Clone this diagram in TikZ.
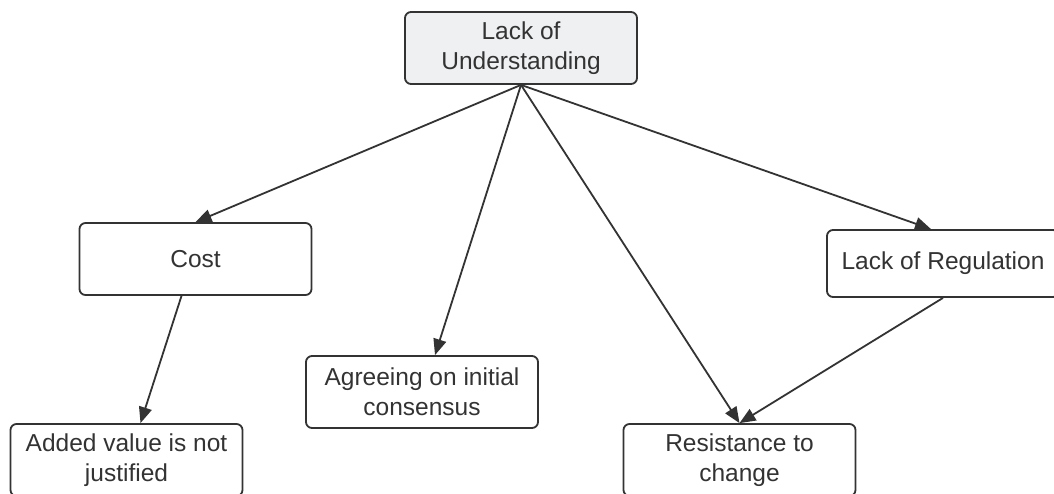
\documentclass[tikz,border=0pt]{standalone}
\usepackage{fontspec}
\setmainfont{Liberation Sans}
\usetikzlibrary{arrows.meta}
\definecolor{ink}{HTML}{333333}
\definecolor{topfill}{HTML}{EEF0F2}
\tikzset{
  box/.style={draw=ink, line width=1.8pt, rounded corners=6pt, fill=white,
    minimum width=232pt, minimum height=72pt, inner sep=0pt, align=center,
    text=ink, font=\fontsize{24.5}{30}\selectfont},
  link/.style={draw=ink, line width=1.8pt, -{Triangle[length=16pt,width=13pt]}}
}
\begin{document}
\begin{tikzpicture}[x=1pt,y=-1pt]
\fill[white] (0,0) rectangle (1054,493);
\useasboundingbox (0,0) rectangle (1054,493);
\clip (0,0) rectangle (1054,493);
\node[box, fill=topfill] (top) at (521,48) {Lack of\\Understanding};
\node[box] (cost) at (195.5,259) {Cost};
\node[box] (added) at (126.5,460) {Added value is not\\justified};
\node[box] (agree) at (422,392) {Agreeing on initial\\consensus};
\node[box] (resist) at (739.5,460) {Resistance to\\change};
\node[box, minimum height=67pt] (reg) at (943,263.5) {Lack of Regulation};
\draw[link] (top.south) -- (cost.north);
\draw[link] (top.south) -- ([xshift=13pt]agree.north);
\draw[link] (top.south) -- (resist.north);
\draw[link] (top.south) -- ([xshift=-12pt]reg.north);
\draw[link] ([xshift=-14pt]cost.south) -- ([xshift=14pt]added.north);
\draw[link] (reg.south) -- (resist.north);
\end{tikzpicture}
\end{document}
